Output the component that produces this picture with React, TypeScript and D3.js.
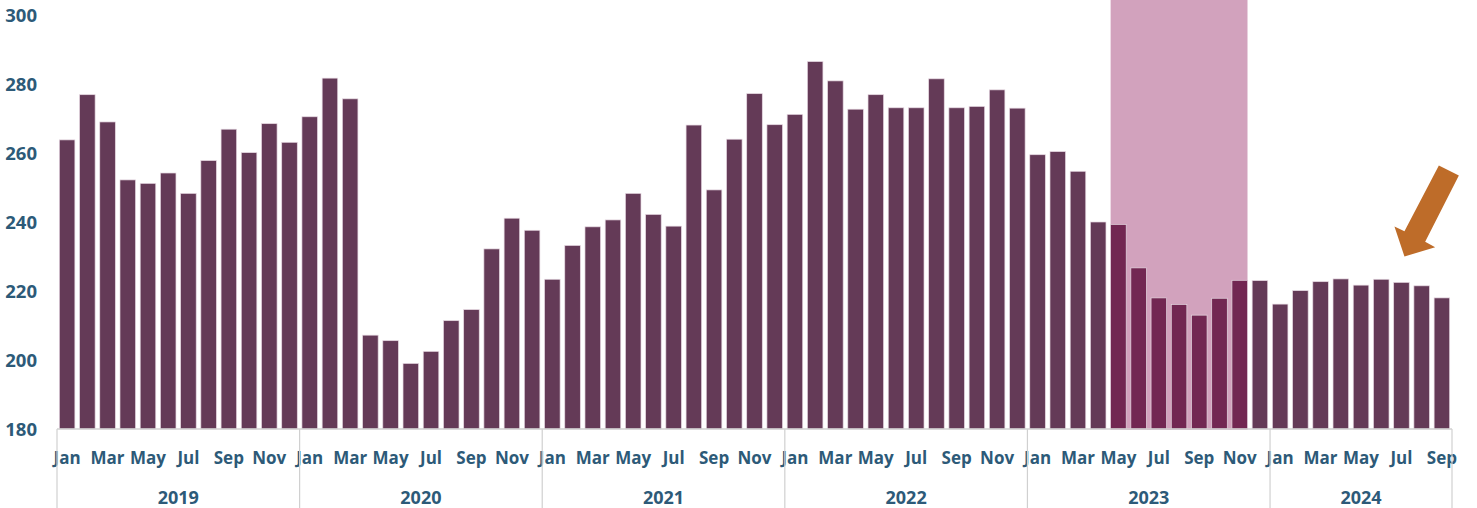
import React, { useEffect, useRef } from 'react';
import * as d3 from 'd3';

// monthly values, Jan 2019 .. Sep 2024
const years = ['2019', '2020', '2021', '2022', '2023', '2024'];
const monthNames = ['Jan', 'Feb', 'Mar', 'Apr', 'May', 'Jun', 'Jul', 'Aug', 'Sep', 'Oct', 'Nov', 'Dec'];

const values2019 = [263.8, 276.9, 269, 252.2, 251.2, 254.2, 248.3, 257.8, 266.9, 260.1, 268.5, 263.1];
const values2020 = [270.5, 281.7, 275.7, 207.2, 205.6, 199, 202.5, 211.4, 214.6, 232.2, 241.1, 237.6];
const values2021 = [223.4, 233.2, 238.6, 240.6, 248.3, 242.2, 238.8, 268.1, 249.3, 264, 277.2, 268.2];
const values2022 = [271.2, 286.5, 280.9, 272.7, 276.9, 273.1, 273.1, 281.5, 273.1, 273.5, 278.3, 273];
const values2023 = [259.5, 260.4, 254.7, 240, 239.3, 226.7, 218, 216.1, 213, 217.9, 223.1, 223];
const values2024 = [216.2, 220.1, 222.7, 223.5, 221.7, 223.4, 222.5, 221.5, 218];

const yTicks = [180, 200, 220, 240, 260, 280, 300];

// highlighted period: May 2023 .. Nov 2023
const highlightStart = '2023-May';
const highlightEnd = '2023-Nov';

const App = () => {
  const svgRef = useRef<SVGSVGElement>(null);

  useEffect(() => {
    const width = 1477;
    const height = 508;
    const svg = d3.select(svgRef.current);
    svg.selectAll('*').remove();

    const data: { key: string; year: string; month: string; value: number }[] = [];
    [values2019, values2020, values2021, values2022, values2023, values2024].forEach((arr, yi) => {
      arr.forEach((v, mi) => {
        data.push({ key: `${years[yi]}-${monthNames[mi]}`, year: years[yi], month: monthNames[mi], value: v });
      });
    });

    const x = d3.scaleBand()
      .domain(data.map(d => d.key))
      .range([57, 1452])
      .paddingInner(0.23)
      .paddingOuter(0.115);

    const y = d3.scaleLinear()
      .domain([180, 300])
      .range([429, 15]);

    const textColor = '#2d5a78';
    const font = '"Open Sans", "Noto Sans", sans-serif';

    // highlight band
    const hx0 = x(highlightStart)!;
    const hx1 = x(highlightEnd)! + x.bandwidth();
    svg.append('rect')
      .attr('x', hx0)
      .attr('y', 0)
      .attr('width', hx1 - hx0)
      .attr('height', y(180) + 1)
      .attr('fill', '#d2a2bd');

    const startIdx = data.findIndex(d => d.key === highlightStart);
    const endIdx = data.findIndex(d => d.key === highlightEnd);

    // bars
    svg.append('g')
      .selectAll('rect')
      .data(data)
      .enter()
      .append('rect')
      .attr('x', d => x(d.key)!)
      .attr('y', d => y(d.value))
      .attr('width', x.bandwidth())
      .attr('height', d => y(180) - y(d.value))
      .attr('fill', (d, i) => (i >= startIdx && i <= endIdx ? '#722752' : '#643a57'))
      .attr('stroke', '#e6d8e1')
      .attr('stroke-width', 0.7);

    // x axis line
    svg.append('line')
      .attr('x1', 57).attr('x2', 1452)
      .attr('y1', y(180)).attr('y2', y(180))
      .attr('stroke', '#d0d0d0')
      .attr('stroke-width', 1.5);

    // month labels (every other month)
    svg.append('g')
      .selectAll('text')
      .data(data.filter((d, i) => i % 2 === 0))
      .enter()
      .append('text')
      .attr('x', d => x(d.key)! + x.bandwidth() / 2)
      .attr('y', 464)
      .attr('text-anchor', 'middle')
      .attr('font-family', font)
      .attr('font-weight', 700)
      .attr('font-size', 17)
      .attr('fill', textColor)
      .text(d => d.month);

    // year groups
    const step = x.step();
    const yearBounds = years.map(yr => {
      const items = data.filter(d => d.year === yr);
      const first = x(items[0].key)! - step * 0.115;
      const last = x(items[items.length - 1].key)! + x.bandwidth() + step * 0.115;
      return { yr, first, last };
    });
    yearBounds.forEach((b, i) => {
      const left = i === 0 ? 57 : b.first;
      const right = i === yearBounds.length - 1 ? 1452 : b.last;
      svg.append('text')
        .attr('x', (left + right) / 2)
        .attr('y', 504)
        .attr('text-anchor', 'middle')
        .attr('font-family', font)
        .attr('font-weight', 700)
        .attr('font-size', 18)
        .attr('fill', textColor)
        .text(b.yr);
    });
    const seps = [57, ...yearBounds.slice(1).map(b => b.first), 1452];
    svg.append('g')
      .selectAll('line')
      .data(seps)
      .enter()
      .append('line')
      .attr('x1', d => d).attr('x2', d => d)
      .attr('y1', y(180)).attr('y2', height)
      .attr('stroke', '#d0d0d0')
      .attr('stroke-width', 1.2);

    // y labels
    svg.append('g')
      .selectAll('text')
      .data(yTicks)
      .enter()
      .append('text')
      .attr('x', 37)
      .attr('y', d => y(d))
      .attr('dy', '0.36em')
      .attr('text-anchor', 'end')
      .attr('font-family', font)
      .attr('font-weight', 700)
      .attr('font-size', 18.5)
      .attr('fill', textColor)
      .text(d => d);

    // orange arrow pointing at Jul 2024
    const tipX = x('2024-Jul')! + x.bandwidth() / 2 + 3;
    const tipY = y(230);
    const arrow = [
      [0, 0], [-10, -30], [0, -25.3], [34.4, -91], [54.4, -81], [20.7, -14.7], [30.7, -9.3],
    ].map(([dx, dy]) => [tipX + dx, tipY + dy] as [number, number]);
    svg.append('path')
      .attr('d', d3.line()(arrow)! + 'Z')
      .attr('fill', '#be6c29');

    svg.attr('width', width).attr('height', height);
  }, []);

  return (
    <div style={{ position: 'absolute', left: 0, top: 0, width: 1477, height: 508, background: '#fff' }}>
      <svg ref={svgRef} style={{ display: 'block' }} />
    </div>
  );
};

export default App;
